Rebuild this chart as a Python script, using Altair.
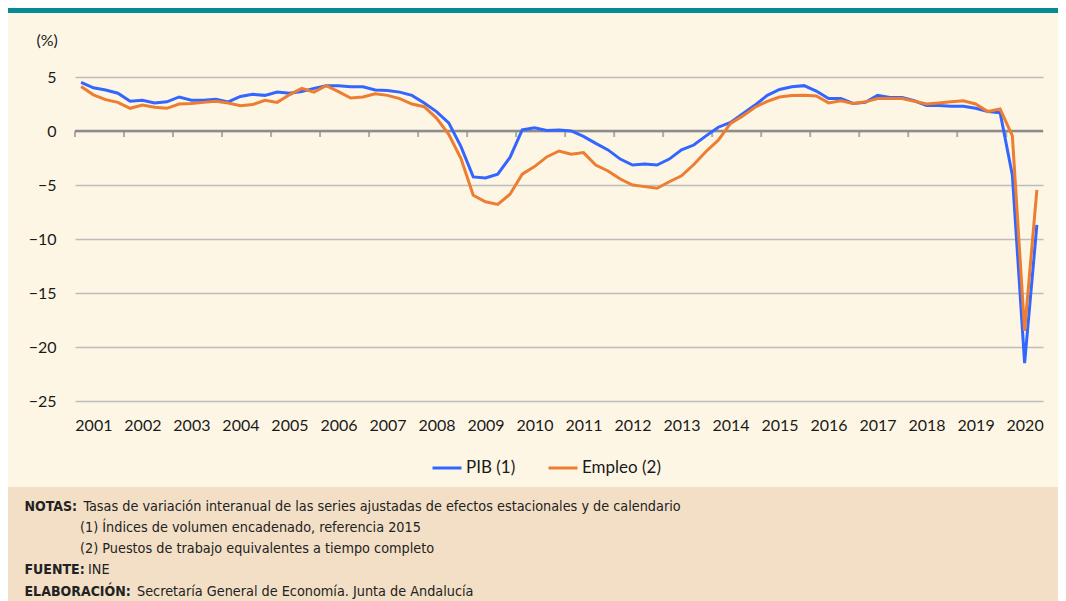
import altair as alt
import pandas as pd

# ---------------- data ----------------
years = [str(y) for y in range(2001, 2021)]
n_quarters = 79  # 2001Q1 .. 2020Q3
series_names = ["PIB (1)", "Empleo (2)"]
series_colors = ["#3366FF", "#ED7D31"]

pib = [4.5, 4.0, 3.8, 3.5, 2.75, 2.85, 2.6, 2.7, 3.15, 2.85,
       2.85, 2.95, 2.7, 3.2, 3.4, 3.3, 3.6, 3.5, 3.65, 3.95,
       4.2, 4.2, 4.1, 4.1, 3.8, 3.75, 3.6, 3.3, 2.6, 1.8,
       0.75, -1.45, -4.25, -4.35, -4.0, -2.45, 0.1, 0.3, 0.05, 0.1,
       0.0, -0.5, -1.15, -1.75, -2.6, -3.15, -3.05, -3.15, -2.6, -1.75,
       -1.3, -0.45, 0.35, 0.8, 1.6, 2.4, 3.3, 3.85, 4.1, 4.2,
       3.7, 3.0, 3.0, 2.55, 2.65, 3.3, 3.1, 3.1, 2.8, 2.35,
       2.35, 2.3, 2.3, 2.1, 1.8, 1.7, -4.1, -21.5, -8.7]

empleo = [4.13, 3.35, 2.9, 2.65, 2.1, 2.4, 2.2, 2.1, 2.5, 2.55,
          2.65, 2.75, 2.6, 2.35, 2.45, 2.85, 2.65, 3.35, 3.95, 3.6,
          4.2, 3.65, 3.05, 3.15, 3.45, 3.3, 3.0, 2.5, 2.25, 1.2,
          -0.3, -2.55, -5.95, -6.55, -6.8, -5.85, -4.0, -3.3, -2.4, -1.85,
          -2.15, -2.0, -3.15, -3.7, -4.45, -5.0, -5.15, -5.3, -4.7, -4.15,
          -3.1, -1.9, -0.85, 0.7, 1.4, 2.2, 2.75, 3.15, 3.28, 3.3,
          3.25, 2.6, 2.8, 2.55, 2.7, 3.0, 3.0, 3.0, 2.75, 2.5,
          2.6, 2.7, 2.8, 2.5, 1.8, 2.05, -0.45, -18.5, -5.45]

y_ticks = [5, 0, -5, -10, -15, -20, -25]

note_lines = [
    ("NOTAS:", "Tasas de variación interanual de las series ajustadas de efectos estacionales y de calendario"),
    ("", "(1) Índices de volumen encadenado, referencia 2015"),
    ("", "(2) Puestos de trabajo equivalentes a tiempo completo"),
    ("FUENTE:", "INE"),
    ("ELABORACIÓN:", "Secretaría General de Economía. Junta de Andalucía"),
]

# ---------------- layout / style ----------------
W, H = 968, 324
PAD = {"left": 67, "top": 69, "right": 15, "bottom": 200}
CREAM = "#FEF6E5"
NOTE_BG = "#F2DFC6"
TEAL = "#078A94"
AX_FONT = "Lato"
NOTE_FONT = "DejaVu Sans Condensed, sans-serif"

df = pd.DataFrame({
    "q": [i + 0.5 for i in range(n_quarters)] * 2,
    "serie": [series_names[0]] * n_quarters + [series_names[1]] * n_quarters,
    "valor": pib + empleo,
})

x_scale = alt.Scale(domain=[0, n_quarters], nice=False, zero=False)
y_scale = alt.Scale(domain=[-25, 5], nice=False, zero=False)

label_expr = "[" + ",".join("'%s'" % y for y in years) + "][floor(datum.value / 4)]"

x_axis = alt.Axis(values=[4 * k + 1.5 for k in range(len(years))],
                  labelExpr=label_expr, title=None, domain=False,
                  ticks=False, tickSize=0, grid=False, labelPadding=16,
                  labelFontSize=16, labelFont=AX_FONT, labelColor="#1a1a1a",
                  labelFlush=False, labelOverlap=False)
y_axis = alt.Axis(values=y_ticks, title="(%)", titleAngle=0, titleAlign="left",
                  titleBaseline="middle", titleX=-39, titleY=-37,
                  titleFontWeight="normal", titleFontSize=16, titleFont=AX_FONT,
                  titleColor="#1a1a1a", domain=False, ticks=False, tickSize=0,
                  labelPadding=19, labelFontSize=16, labelFont=AX_FONT,
                  labelColor="#1a1a1a", gridColor="#BDBDBD", gridWidth=1.5)

X = alt.X("q:Q", scale=x_scale, axis=x_axis)
Y = alt.Y("valor:Q", scale=y_scale, axis=y_axis)

one = pd.DataFrame({"k": [0]})

teal_bar = alt.Chart(one).mark_rect(color=TEAL).encode(
    x=alt.value(-PAD["left"]), x2=alt.value(W + PAD["right"]),
    y=alt.value(-PAD["top"]), y2=alt.value(-PAD["top"] + 5))

notes_bg = alt.Chart(one).mark_rect(color=NOTE_BG).encode(
    x=alt.value(-PAD["left"]), x2=alt.value(W + PAD["right"]),
    y=alt.value(410), y2=alt.value(H + PAD["bottom"]))

zero_rule = alt.Chart(pd.DataFrame({"valor": [0]})).mark_rule(
    color="#8C8C8C", strokeWidth=2.5).encode(y=Y)

tick_df = pd.DataFrame({"q": [4 * k for k in range(len(years))], "valor": [0] * len(years)})
ticks = alt.Chart(tick_df).mark_tick(
    orient="vertical", size=6, thickness=2, color="#8C8C8C", yOffset=3).encode(x=X, y=Y)

lines = alt.Chart(df).mark_line(strokeWidth=3).encode(
    x=X, y=Y,
    color=alt.Color("serie:N",
                    scale=alt.Scale(domain=series_names, range=series_colors),
                    legend=alt.Legend(title=None, orient="none", legendX=356, legendY=375,
                                      direction="horizontal", symbolType="stroke",
                                      symbolStrokeWidth=3, symbolSize=841,
                                      labelFontSize=17, labelFont=AX_FONT,
                                      labelColor="#1a1a1a", columnPadding=26,
                                      labelOffset=3, padding=0)),
)

note_y = [430, 451, 472, 493, 515]
note_x_rest = [8.5, 5, 5, 13, 62]
text_layers = []
for (bold, rest), yy, xr in zip(note_lines, note_y, note_x_rest):
    if bold:
        text_layers.append(alt.Chart(one).mark_text(
            text=bold, align="left", baseline="middle", font=NOTE_FONT, fontSize=14,
            fontWeight="bold", color="#222222").encode(x=alt.value(-50.5), y=alt.value(yy)))
    text_layers.append(alt.Chart(one).mark_text(
        text=rest, align="left", baseline="middle", font=NOTE_FONT, fontSize=14.3,
        color="#222222").encode(x=alt.value(xr), y=alt.value(yy)))

chart = alt.layer(teal_bar, notes_bg, zero_rule, ticks, lines, *text_layers).properties(
    width=W, height=H, padding=PAD,
    autosize=alt.AutoSizeParams(type="none"),
    background=CREAM,
).configure_view(strokeWidth=0, fill=CREAM)

chart.save("out.html", embed_options={"renderer": "svg", "actions": False})
